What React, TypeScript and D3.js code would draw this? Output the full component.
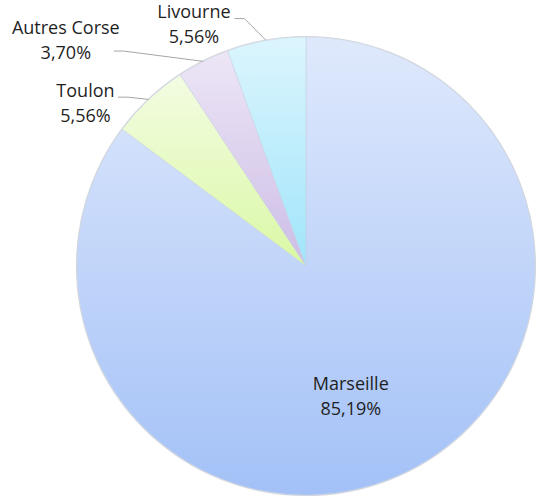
import React from 'react';
import * as d3 from 'd3';

// slices, clockwise from 12 o'clock
const categories = ['Marseille', 'Toulon', 'Autres Corse', 'Livourne'];
const shares = [85.19, 5.56, 3.7, 5.56];
const percentLabels = ['85,19%', '5,56%', '3,70%', '5,56%'];

// gradient stops (top, bottom) for each slice
const topColors = ['#dfe9fc', '#f3fce3', '#ede6f6', '#dcf5fd'];
const bottomColors = ['#a3c1f7', '#daf8a4', '#cdbde6', '#a0e5fb'];

// label placement, relative to the point where the slice's mid-angle meets the rim
const labelLayout = [
  { tx: -58, ty: -80.5, lx: null, ly: null },
  { tx: -63.4, ty: -2.3, lx: -30.9, ly: -2.3 },
  { tx: -137.4, ty: -27.3, lx: -89.4, ly: -10.3 },
  { tx: -72.3, ty: -22.4, lx: -31.8, ly: -21.9 },
];

const width = 547;
const height = 497;
const cx = 306;
const cy = 266;
const radius = 229;

export default function App() {
  const data = categories.map((c, i) => ({ name: c, value: shares[i], label: percentLabels[i] }));

  const pie = d3.pie<any>().sort(null).value(d => d.value);
  const arcs = pie(data);
  const arc = d3.arc<any>().innerRadius(0).outerRadius(radius);

  const textStyle = {
    fontFamily: '"Open Sans", sans-serif',
    fontSize: 18,
    fill: '#1f1f1f',
  };

  return (
    <svg width={width} height={height} style={{ position: 'absolute', left: 0, top: 0 }}>
      <defs>
        {arcs.map((a, i) => (
          <linearGradient key={i} id={'grad' + i} x1="0" y1="0" x2="0" y2="1">
            <stop offset="0%" stopColor={topColors[i]} />
            <stop offset="100%" stopColor={bottomColors[i]} />
          </linearGradient>
        ))}
      </defs>
      <g transform={`translate(${cx},${cy})`}>
        <circle r={radius + 0.5} fill="none" stroke="#d6d9de" strokeWidth={1.2} />
        {arcs.map((a, i) => (
          <path
            key={i}
            d={arc(a) as string}
            fill={`url(#grad${i})`}
            stroke="#c4cfe0"
            strokeWidth={0.5}
          />
        ))}
        {arcs.map((a, i) => {
          const mid = (a.startAngle + a.endAngle) / 2;
          const ex = radius * Math.sin(mid);
          const ey = -radius * Math.cos(mid);
          const lay = labelLayout[i];
          const tx = ex + lay.tx;
          const ty = ey + lay.ty;
          let leader = null;
          if (lay.lx !== null) {
            const lx = ex + lay.lx;
            const ly = ey + (lay.ly as number);
            const path = d3.path();
            path.moveTo(lx, ly);
            path.lineTo(lx + 10, ly);
            path.lineTo(ex, ey);
            leader = <path d={path.toString()} fill="none" stroke="#a6a6a6" strokeWidth={1} />;
          }
          return (
            <g key={'l' + i}>
              {leader}
              <text x={tx} y={ty} textAnchor="middle" style={textStyle}>
                {a.data.name}
              </text>
              <text x={tx} y={ty + 25} textAnchor="middle" style={textStyle}>
                {a.data.label}
              </text>
            </g>
          );
        })}
      </g>
    </svg>
  );
}
